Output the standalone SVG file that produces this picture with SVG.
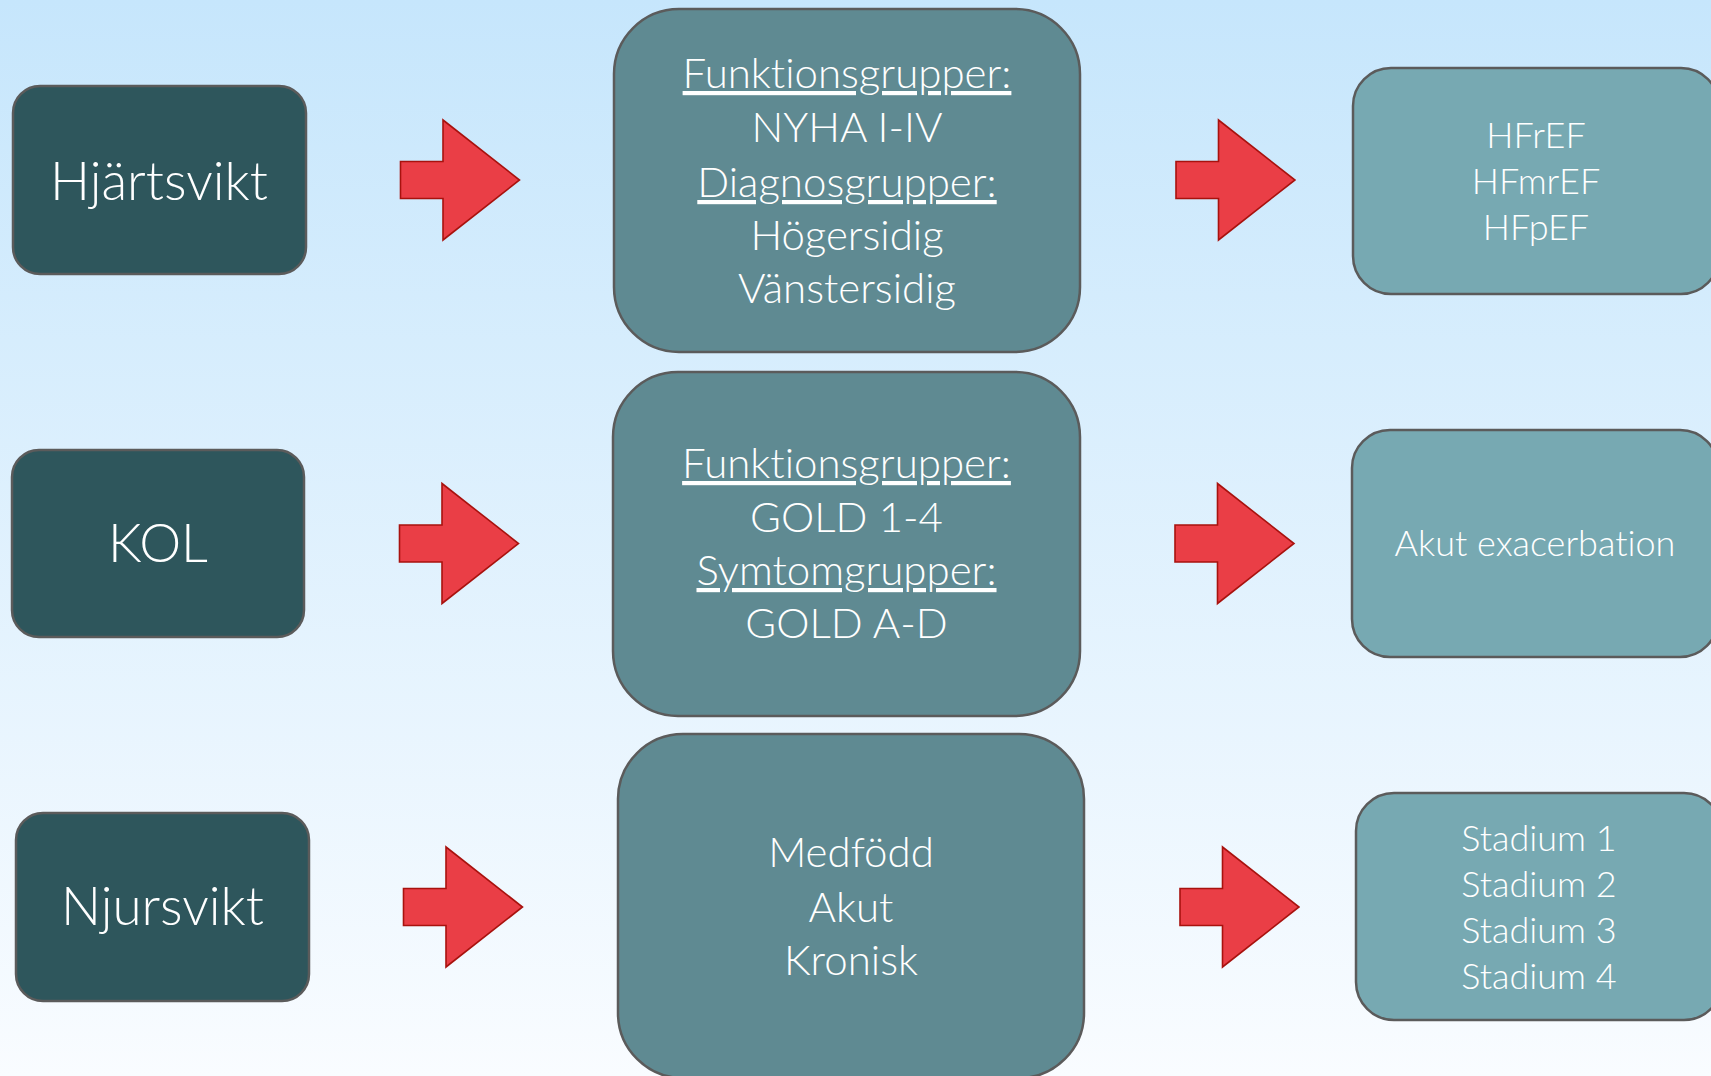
<svg xmlns="http://www.w3.org/2000/svg" width="1711" height="1076" viewBox="0 0 1711 1076">
<style>
.t{font-family:Lato,"Liberation Sans",sans-serif;font-weight:300;fill:#ffffff;text-anchor:middle;font-variant-ligatures:none;font-feature-settings:"liga" 0,"clig" 0,"dlig" 0,"calt" 0}
.big{font-size:53px}
.mid{font-size:42px}
.sm{font-size:36px}
.u{text-decoration:underline}
.bl{fill:#2E565C;stroke:#5B5B5B;stroke-width:2.5}
.bm{fill:#5F8A92;stroke:#5B5B5B;stroke-width:2.5}
.br{fill:#77A9B2;stroke:#5B5B5B;stroke-width:2.5}
.arr{fill:#EA3E46;stroke:#A8120E;stroke-width:1.6}
</style>
<defs>
<linearGradient id="bg" x1="0" y1="0" x2="0" y2="1">
<stop offset="0" stop-color="#C6E6FC"/>
<stop offset="1" stop-color="#F9FCFF"/>
</linearGradient>
<path id="arrow" d="M0,-18.5 H42.5 V-60 L119,0 L42.5,60 V18.5 H0 Z"/>
</defs>
<rect x="0" y="0" width="1711" height="1076" fill="url(#bg)"/>

<g id="connectors">
<use href="#arrow" class="arr" transform="translate(400.5,180)"/>
<use href="#arrow" class="arr" transform="translate(399.5,543.5)"/>
<use href="#arrow" class="arr" transform="translate(403.5,907)"/>
<use href="#arrow" class="arr" transform="translate(1176,180)"/>
<use href="#arrow" class="arr" transform="translate(1175,543.5)"/>
<use href="#arrow" class="arr" transform="translate(1180,907)"/>
</g>

<g id="n-hjartsvikt">
<rect class="bl" x="13" y="86" width="293" height="188" rx="27"/>
<text class="t big" x="159" y="200">Hjärtsvikt</text>
</g>
<g id="n-kol">
<rect class="bl" x="12" y="450" width="292" height="187" rx="27"/>
<text class="t big" x="158" y="562">KOL</text>
</g>
<g id="n-njursvikt">
<rect class="bl" x="16" y="813" width="293" height="188" rx="27"/>
<text class="t big" x="162.5" y="925">Njursvikt</text>
</g>

<g id="n-hjart-grupper">
<rect class="bm" x="614" y="9" width="466" height="343" rx="65"/>
<text class="t mid u" x="847" y="88">Funktionsgrupper:</text>
<text class="t mid" x="847" y="142">NYHA I-IV</text>
<text class="t mid u" x="847" y="197">Diagnosgrupper:</text>
<text class="t mid" x="847" y="250">Högersidig</text>
<text class="t mid" x="847" y="303">Vänstersidig</text>
</g>
<g id="n-kol-grupper">
<rect class="bm" x="613" y="372" width="467" height="344" rx="65"/>
<text class="t mid u" x="846.5" y="478">Funktionsgrupper:</text>
<text class="t mid" x="846.5" y="532">GOLD 1-4</text>
<text class="t mid u" x="846.5" y="585">Symtomgrupper:</text>
<text class="t mid" x="846.5" y="638">GOLD A-D</text>
</g>
<g id="n-njur-grupper">
<rect class="bm" x="618" y="734" width="466" height="344" rx="65"/>
<text class="t mid" x="851" y="867">Medfödd</text>
<text class="t mid" x="851" y="922">Akut</text>
<text class="t mid" x="851" y="975">Kronisk</text>
</g>

<g id="n-hf-typer">
<rect class="br" x="1353" y="68" width="366" height="226" rx="38"/>
<text class="t sm" x="1536" y="148">HFrEF</text>
<text class="t sm" x="1536" y="194">HFmrEF</text>
<text class="t sm" x="1536" y="240">HFpEF</text>
</g>
<g id="n-akut">
<rect class="br" x="1352" y="430" width="366" height="227" rx="38"/>
<text class="t sm" x="1535" y="556">Akut exacerbation</text>
</g>
<g id="n-stadier">
<rect class="br" x="1356" y="793" width="366" height="227" rx="38"/>
<text class="t sm" x="1539" y="851">Stadium 1</text>
<text class="t sm" x="1539" y="897">Stadium 2</text>
<text class="t sm" x="1539" y="943">Stadium 3</text>
<text class="t sm" x="1539" y="989">Stadium 4</text>
</g>
</svg>
